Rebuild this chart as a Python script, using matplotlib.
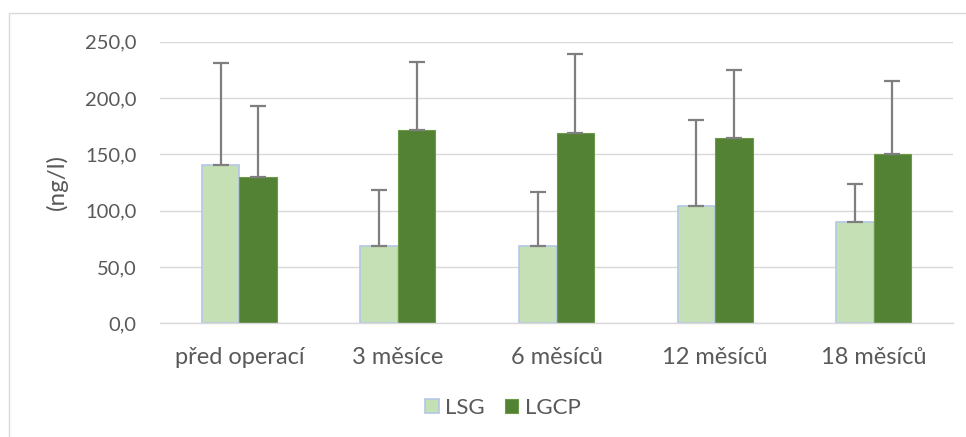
import matplotlib
matplotlib.use("Agg")
import matplotlib.pyplot as plt
import numpy as np
from matplotlib.patches import Rectangle

categories = ["před operací", "3 měsíce", "6 měsíců", "12 měsíců", "18 měsíců"]
lsg = [140.5, 68.6, 68.4, 104.1, 89.7]
lsg_err = [90.3, 49.7, 48.2, 76.4, 33.7]
lgcp = [129.6, 171.9, 169.0, 164.5, 150.0]
lgcp_err = [63.0, 60.1, 70.4, 60.7, 65.1]
yticks = [0, 50, 100, 150, 200, 250]
ytick_labels = ["0,0", "50,0", "100,0", "150,0", "200,0", "250,0"]

plt.rcParams['font.family'] = ['Lato', 'DejaVu Sans']
txt = '#595959'
W, H = 966, 437
fig = plt.figure(figsize=(W/100, H/100), dpi=100)
fig.patches.append(Rectangle((9/W, -0.01), 1.0, 1 - 13/H + 0.01, transform=fig.transFigure,
                             facecolor='none', edgecolor='#d9d9d9', linewidth=1.0))
ax = fig.add_axes([160/W, 1 - 323.3/H, (953-160)/W, (323.3-41.7)/H])

x = np.arange(len(categories))
bw = 0.237
ax.bar(x - bw/2, lsg, bw, color='#c5e0b4', edgecolor='#b4c7e7', linewidth=1.2, label='LSG', zorder=2)
ax.bar(x + bw/2, lgcp, bw, color='#548235', edgecolor='#6a9a4a', linewidth=0.8, label='LGCP', zorder=2)
ax.errorbar(x - bw/2, lsg, yerr=[np.zeros(len(lsg)), lsg_err], fmt='none', ecolor='#7f7f7f',
            elinewidth=1.6, capsize=5.5, capthick=1.6, zorder=3)
ax.errorbar(x + bw/2, lgcp, yerr=[np.zeros(len(lgcp)), lgcp_err], fmt='none', ecolor='#7f7f7f',
            elinewidth=1.6, capsize=5.5, capthick=1.6, zorder=3)

ax.set_xlim(-0.5, len(categories) - 0.5)
ax.set_ylim(0, 250)
ax.set_yticks(yticks)
ax.set_yticklabels(ytick_labels)
ax.set_xticks(x)
ax.set_xticklabels(categories)
ax.tick_params(axis='both', length=0, colors=txt)
ax.tick_params(axis='y', pad=17, labelsize=14.5)
ax.tick_params(axis='x', pad=17, labelsize=17)
ax.grid(axis='y', color='#d9d9d9', linewidth=1.0, zorder=0)
ax.set_axisbelow(True)
for s in ['top', 'right', 'left']:
    ax.spines[s].set_visible(False)
ax.spines['bottom'].set_color('#d9d9d9')
ax.spines['bottom'].set_linewidth(1.0)
ax.set_ylabel("(ng/l)", fontsize=17.5, color=txt, labelpad=12)

leg = fig.legend(loc='center', bbox_to_anchor=(503/W, 1 - 408/H), ncol=2, frameon=False,
                 fontsize=16, handlelength=0.6, handleheight=0.6, handletextpad=0.3,
                 columnspacing=0.9, labelcolor=txt)

fig.savefig("out.png", dpi=100)
